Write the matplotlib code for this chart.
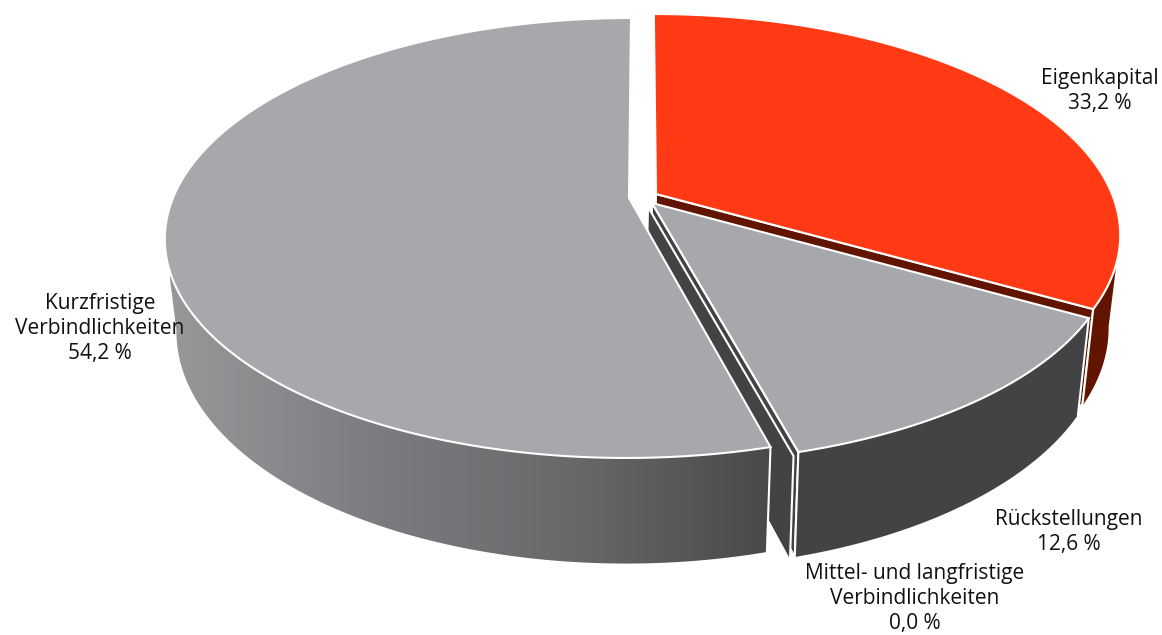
#!/usr/bin/env python3
# -*- coding: utf-8 -*-
"""
Exploded 3D looking pie (Kapitalstruktur), drawn with a small perspective projection
"""

import numpy as np
import matplotlib
matplotlib.use('Agg')
import matplotlib.pyplot as plt
from matplotlib.colors import LinearSegmentedColormap
from matplotlib.patches import Polygon

plt.rcParams['font.family'] = ['Open Sans', 'DejaVu Sans']

# data
categories = ['Eigenkapital', 'Rückstellungen', 'Mittel- und langfristige\nVerbindlichkeiten',
              'Kurzfristige\nVerbindlichkeiten']
shares = [33.2, 12.6, 0.0, 54.2]
share_labels = ['33,2 %', '12,6 %', '0,0 %', '54,2 %']

# look of each slice, same order as above
top_colors = ['#ff3a14', '#a7a8ab', '#a7a8ab', '#a7a8ab']
side_colors = ['#611500', '#434345', '#434345', None]
apex_x = [656, 652, 648, 629]
apex_y = [194, 203, 207, 198]
label_x = [1100, 1069, 915, 100]
label_y = [91, 532, 598, 329]

# projection of the rim
VANISH_X = 642
RX, RY = 456, 212.7
PERSP = 0.1818
DEPTH = 90
BOTTOM_SX, BOTTOM_SY = 0.975, 1.06
EDGE = 1.5

# widest points of the rim, the outer side is only seen between them
SIDE_FROM = np.arccos(-PERSP)
SIDE_TO = 2 * np.pi - SIDE_FROM

side_cmap = LinearSegmentedColormap.from_list(
    'side', ['#98989b', '#7d7c80', '#69696c', '#48494b'])


def rim(i, theta, bottom=False):
    d = 1 + PERSP * np.cos(theta)
    sx, sy, dy = (BOTTOM_SX, BOTTOM_SY, DEPTH) if bottom else (1, 1, 0)
    x = VANISH_X + (apex_x[i] - VANISH_X + sx * RX * np.sin(theta)) / d
    y = apex_y[i] + dy - sy * RY * np.cos(theta) / d
    return x, y


def wall(ax, i, theta, color, z):
    x0, y0 = rim(i, theta)
    x1, y1 = rim(i, theta, bottom=True)
    pts = [(apex_x[i], apex_y[i]), (x0, y0), (x1, y1), (apex_x[i] - 2, apex_y[i] + DEPTH)]
    ax.add_patch(Polygon(pts, closed=True, facecolor=color, edgecolor='white', linewidth=EDGE, zorder=z))


fig = plt.figure(figsize=(11.62, 6.35), dpi=100)
ax = fig.add_axes([0, 0, 1, 1])

stops = np.radians(np.cumsum([0] + shares) * 3.6)
for i, share in enumerate(shares):
    t0, t1 = stops[i], stops[i + 1]
    z = 10 * (i + 1)
    # cut face on the far clockwise side
    if side_colors[i] is not None:
        wall(ax, i, t1, side_colors[i], z)
    if share == 0:
        continue

    # outer side, only the part facing the viewer
    th = np.linspace(max(t0, SIDE_FROM), min(t1, SIDE_TO), 400)
    xt, yt = rim(i, th)
    xb, yb = rim(i, th, bottom=True)
    side = Polygon(list(zip(xt, yt)) + list(zip(xb[::-1], yb[::-1])), closed=True,
                   facecolor=side_colors[i] or 'none', edgecolor='none', zorder=z + 1)
    ax.add_patch(side)
    if side_colors[i] is None:
        im = ax.imshow(np.linspace(0, 1, 256)[None, :], extent=[170, 770, 600, 100], cmap=side_cmap,
                       aspect='auto', zorder=z + 1)
        im.set_clip_path(side)

    # white edge of the side at the cuts
    for k in (0, -1):
        if th[k] in (t0, t1):
            ax.plot([xt[k], xb[k]], [yt[k], yb[k]], color='white', lw=EDGE, zorder=z + 2)

    # top face
    th = np.linspace(t0, t1, 400)
    xt, yt = rim(i, th)
    pts = [(apex_x[i], apex_y[i])] + list(zip(xt, yt))
    ax.add_patch(Polygon(pts, closed=True, facecolor=top_colors[i], edgecolor='white', linewidth=EDGE, zorder=z + 3))

for i in range(len(categories)):
    ax.text(label_x[i], label_y[i], categories[i] + '\n' + share_labels[i], ha='center', va='center',
            fontsize=15, color='#111111', linespacing=1.25, zorder=100)

ax.set_xlim(0, 1162)
ax.set_ylim(635, 0)
ax.axis('off')

fig.savefig('out.png', dpi=100)
plt.close(fig)
